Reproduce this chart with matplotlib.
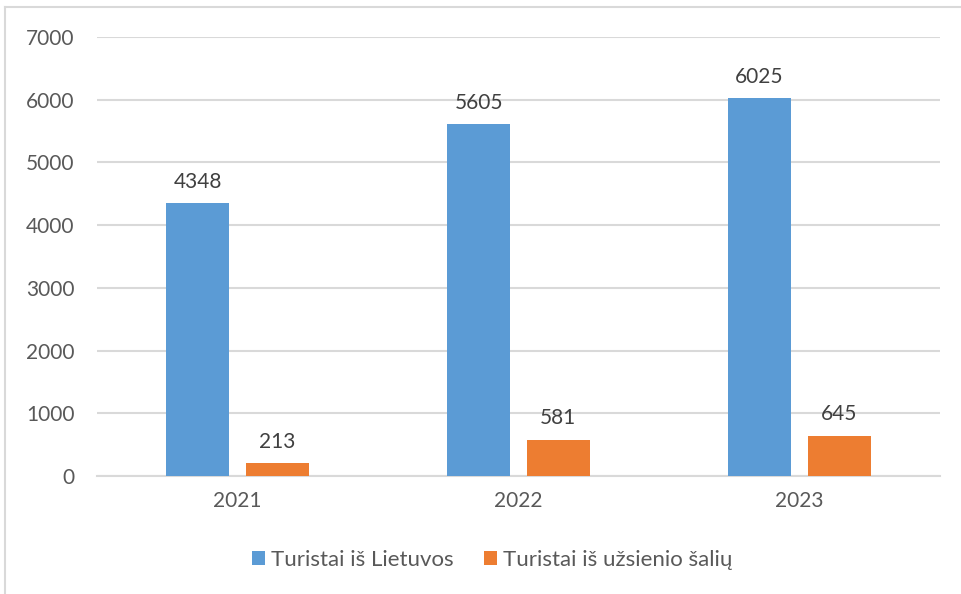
import matplotlib
matplotlib.use("Agg")
import matplotlib.pyplot as plt
import numpy as np
from matplotlib.lines import Line2D

plt.rcParams['font.family'] = ['Lato', 'DejaVu Sans']

years = ["2021", "2022", "2023"]
lietuva = [4348, 5605, 6025]
uzsienis = [213, 581, 645]
series_names = ["Turistai iš Lietuvos", "Turistai iš užsienio šalių"]
colors = ["#5B9BD5", "#ED7D31"]
yticks = [0, 1000, 2000, 3000, 4000, 5000, 6000, 7000]

fig = plt.figure(figsize=(9.61, 5.94), dpi=100)
ax = fig.add_axes([97/961, 1-476/594, (940-97)/961, (476-37)/594])

x = np.arange(len(years))
w = 0.224
off = 0.142
b1 = ax.bar(x - off, lietuva, w, color=colors[0], label=series_names[0], zorder=3)
b2 = ax.bar(x + off, uzsienis, w, color=colors[1], label=series_names[1], zorder=3)

for bars in (b1, b2):
    for r in bars:
        ax.annotate(f"{int(r.get_height())}", (r.get_x() + r.get_width()/2, r.get_height()),
                    xytext=(0, 8), textcoords="offset points", ha="center", va="bottom",
                    fontsize=15, color="#404040")

ax.set_xlim(-0.5, 2.5)
ax.set_ylim(0, 7000)
ax.set_yticks(yticks)
ax.set_yticklabels([str(v) for v in yticks])
ax.set_xticks(x)
ax.set_xticklabels(years)
ax.yaxis.grid(True, color="#D9D9D9", linewidth=1.5, zorder=0)
for s in ["top", "right", "left"]:
    ax.spines[s].set_visible(False)
ax.spines["bottom"].set_color("#D9D9D9")
ax.spines["bottom"].set_linewidth(1.5)
ax.tick_params(axis="both", length=0, labelsize=15, colors="#595959")
ax.tick_params(axis="y", pad=16)
ax.tick_params(axis="x", pad=11)

leg = fig.legend(handles=[b1, b2], labels=series_names, loc="center",
                 bbox_to_anchor=(492/961, 1-560/594), ncol=2, frameon=False,
                 fontsize=16, handlelength=0.6, handleheight=0.6,
                 handletextpad=0.25, columnspacing=1.35, labelcolor="#595959")

# outer chart frame (partially visible)
fig.add_artist(Line2D([5/961, 1.0], [1-7/594, 1-7/594], transform=fig.transFigure,
                      color="#D9D9D9", linewidth=1.5))
fig.add_artist(Line2D([5/961, 5/961], [0, 1-7/594], transform=fig.transFigure,
                      color="#D9D9D9", linewidth=1.5))

fig.savefig("out.png", dpi=100)
